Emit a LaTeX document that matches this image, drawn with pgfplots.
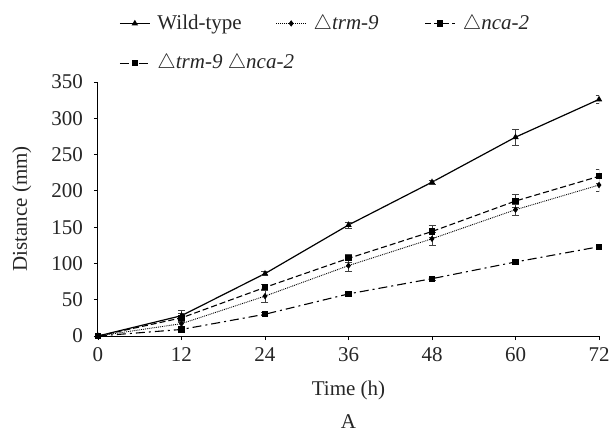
\documentclass[border=0pt]{standalone}
\usepackage{fontspec}
\setmainfont{Liberation Serif}
\usepackage{pgfplots}
\pgfplotsset{compat=1.18}
\begin{document}
\fontsize{21}{25}\selectfont
\begin{tikzpicture}
\useasboundingbox (-98pt,-96pt) rectangle (513pt,336pt);
\begin{axis}[
  at={(0pt,0pt)}, anchor=south west,
  scale only axis, width=501pt, height=254pt,
  xmin=0, xmax=72, ymin=0, ymax=350,
  axis x line*=bottom, axis y line*=left,
  xtick={0,12,...,72}, ytick={0,50,...,350},
  tick align=outside, major tick length=4pt,
  tick style={black, line width=0.8pt},
  axis line style={line width=1pt, black},
  /pgf/number format/assume math mode=true,
  tick label style={font=\fontsize{21}{25}\selectfont, text=black!85},
  yticklabel style={xshift=-4pt},
  label style={font=\fontsize{21}{25}\selectfont, text=black!85},
  xlabel={Time (h)}, ylabel={Distance (mm)},
  xlabel style={at={(axis description cs:0.5,-0.2126)}, anchor=center},
  ylabel style={at={(axis description cs:-0.152,0.5)}, anchor=center},
  legend columns=3,
  legend cell align=left,
  legend style={at={(axis description cs:0.042,1.274)}, anchor=north west, draw=none, fill=none, inner sep=0pt,
    font=\fontsize{21}{25}\selectfont, text=black!85, row sep=18pt,
    /tikz/column 1/.style={column sep=5pt},
    /tikz/column 2/.style={column sep=32pt},
    /tikz/column 3/.style={column sep=5pt},
    /tikz/column 4/.style={column sep=44pt},
    /tikz/column 5/.style={column sep=5pt}},
  legend image code/.code={\draw[mark repeat=2,mark phase=2,#1] plot coordinates {(0pt,0pt) (15pt,0pt) (30pt,0pt)};},
  every axis plot/.append style={
    error bars/y dir=both, error bars/y explicit,
    error bars/error bar style={line width=0.6pt, black!75, solid},
    error bars/error mark options={rotate=90, mark size=3.5pt, line width=0.6pt, black!75}},
]
\addplot[black, line width=1.2pt, mark=triangle*, mark size=2.5pt, mark options={solid}]
  table[x=x, y=y, y error=e] {
x y e
0 0 0
12 28 8
24 86 3
36 153 4
48 212 3
60 274 11
72 326 5
};
\addlegendentry{Wild-type}
\addplot[black, line width=0.9pt, densely dotted, mark=diamond*, mark size=2.5pt, mark options={solid}]
  table[x=x, y=y, y error=e] {
x y e
0 0 0
12 17 5
24 55 9
36 97 8
48 134 9
60 174 8
72 208 9
};
\addlegendentry{$\triangle$\textit{trm-9}}
\addplot[black, line width=1.1pt, dash pattern=on 6pt off 3pt, mark=square*, mark size=2.5pt, mark options={solid}]
  table[x=x, y=y, y error=e] {
x y e
0 0 0
12 25 6
24 67 4
36 107 6
48 144 8
60 186 9
72 220 10
};
\addlegendentry{$\triangle$\textit{nca-2}}
\addplot[black, line width=1.1pt, dash pattern=on 9pt off 4pt on 2pt off 4pt, mark=square*, mark size=2.5pt, mark options={solid}]
  table[x=x, y=y, y error=e] {
x y e
0 0 0
12 9 2
24 30 2
36 58 2
48 79 2
60 102 2
72 123 2
};
\addlegendentry{\makebox[0pt][l]{$\triangle$\textit{trm-9} $\triangle$\textit{nca-2}}}
\end{axis}
\node[font=\fontsize{21}{25}\selectfont, text=black!85, inner sep=0pt] at (250.5pt,-86pt) {A};
\end{tikzpicture}
\end{document}
